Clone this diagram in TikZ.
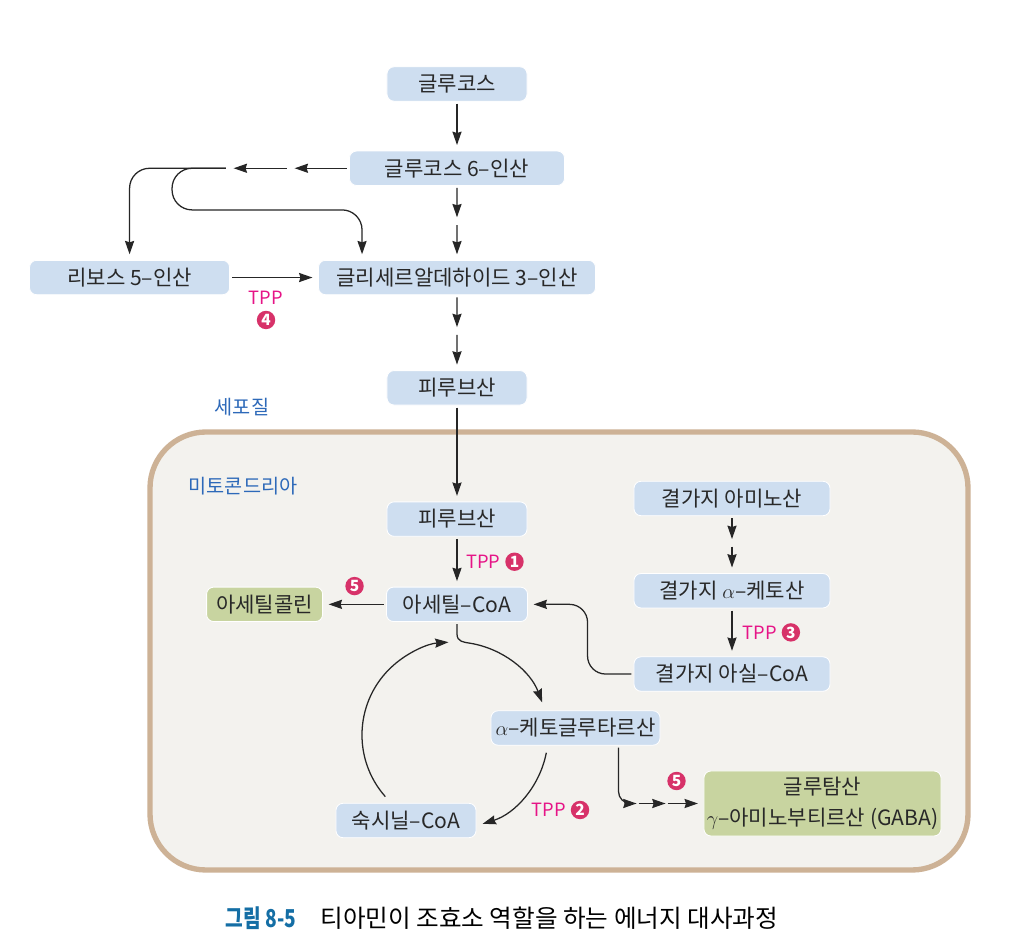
\documentclass[tikz,border=0pt]{standalone}
\usepackage{fontspec}
\setmainfont{Noto Sans CJK KR}
\usepackage{xcolor}
\usepackage{graphicx}
\usepackage{tikz}
\usetikzlibrary{arrows.meta, positioning, calc}
\definecolor{boxblue}{RGB}{206,222,240}
\definecolor{boxgreen}{RGB}{200,212,160}
\definecolor{mitofill}{RGB}{243,242,238}
\definecolor{mitoline}{RGB}{205,178,150}
\definecolor{labelblue}{RGB}{45,105,185}
\definecolor{tppmagenta}{RGB}{230,20,135}
\definecolor{numred}{RGB}{215,50,105}
\definecolor{capblue}{RGB}{20,110,165}
\definecolor{textgray}{RGB}{40,40,40}

\begin{document}
\begin{tikzpicture}[
  x=0.025cm, y=0.025cm,
  font=\fontsize{15}{17}\selectfont,
  >=Stealth,
  mol/.style={draw=white, line width=0.6pt, rounded corners=5pt, fill=#1,
              text=textgray, minimum height=0.86cm, inner sep=2pt},
  arr/.style={-{Stealth[length=9.5pt, width=6.5pt, inset=1pt]}, draw=black!85,
              line width=0.9pt, shorten <=1.5pt, shorten >=4pt},
  tpp/.style={text=tppmagenta, inner sep=1pt, font=\fontsize{13}{13}\selectfont},
  num/.style={circle, fill=numred, text=white, inner sep=0pt, minimum size=0.46cm,
              font=\fontsize{11}{11}\selectfont\bfseries},
  lbl/.style={text=labelblue, inner sep=1pt, font=\fontsize{14}{14}\selectfont},
]
\fill[white] (0,0) rectangle (1035,-951);
\useasboundingbox (0,0) rectangle (1035,-951);

%% Mitochondrion
\draw[mitoline, fill=mitofill, line width=3.8pt, rounded corners=1.4cm]
  (150,-432) rectangle (968,-870);
\node[lbl] (cyto) at (242,-407) {세포질};
\node[lbl] (mito) at (243,-486) {미토콘드리아};

%% Glycolysis column at x=457
\node[mol=boxblue, minimum width=3.5cm] (glc) at (457,-84) {글루코스};
\node[mol=boxblue, minimum width=5.375cm, below=1.225cm of glc] (g6p)
  {글루코스 6–인산};
\node[mol=boxblue, minimum width=6.925cm, below=1.85cm of g6p] (g3p)
  {글리세르알데하이드 3–인산};
\node[mol=boxblue, minimum width=5cm, left=2.2cm of g3p] (r5p)
  {리보스 5–인산};
\node[mol=boxblue, minimum width=3.5cm, below=1.875cm of g3p] (pyr) {피루브산};
\node[mol=boxblue, minimum width=3.5cm, below=2.4cm of pyr] (pyrm) {피루브산};
\node[mol=boxblue, minimum width=3.525cm, below=1.25cm of pyrm] (acoa)
  {아세틸–CoA};
\node[mol=boxgreen, minimum width=2.9cm, left=1.575cm of acoa] (ach)
  {아세틸콜린};

%% Branched chain (right)
\node[mol=boxblue, minimum width=4.9cm] (bcaa) at (732,-498.5) {결가지 아미노산};
\node[mol=boxblue, minimum width=4.9cm, below=1.425cm of bcaa] (bcka)
  {결가지 $\alpha$–케토산};
\node[mol=boxblue, minimum width=4.9cm, below=1.2cm of bcka] (bcac)
  {결가지 아실–CoA};

%% Cycle
\node[mol=boxblue, minimum width=4.225cm] (akg) at (575.5,-728)
  {$\alpha$–케토글루타르산};
\node[mol=boxblue, minimum width=3.5cm] (suc) at (406,-820.5) {숙시닐–CoA};
\node[mol=boxgreen, minimum width=5.875cm, minimum height=1.625cm, align=center,
      font=\fontsize{15}{22}\selectfont] (gaba) at (822.5,-803.5)
  {글루탐산\\$\gamma$–아미노부티르산 (GABA)};

%% Arrows: glycolysis
\coordinate (m1) at ($(g6p.south)!0.5!(g3p.north)$);
\coordinate (m2) at ($(g3p.south)!0.5!(pyr.north)$);
\draw[arr] (glc) -- (g6p);
\draw[arr] (g6p) -- (m1);
\draw[arr] (m1) -- (g3p);
\draw[arr] (g3p) -- (m2);
\draw[arr] (m2) -- (pyr);
\draw[arr] (pyr) -- (pyrm);

%% Pentose branch
\coordinate (br1) at ($(g6p.west)+(-60,0)$);
\coordinate (br2) at ($(g6p.west)+(-121,0)$);
\draw[arr] (g6p.west) -- (br1);
\draw[arr] (br1) -- (br2);
\draw[arr, rounded corners=0.5cm] (br2) -| (r5p.north);
\draw[arr, rounded corners=0.5cm] (br2) -- ++(-56,0)
  |- ($(g3p.north west)+(44,50)$) -- ($(g3p.north west)+(44,0)$);
\draw[arr] (r5p) -- (g3p) node[tpp, midway, below=8pt, xshift=-0.2cm] (tpp4) {TPP};
\node[num, below=3pt of tpp4] (n4) {4};

%% Arrows: mitochondrion
\draw[arr] (pyrm) -- (acoa) node[tpp, midway, right=5pt] (tpp1) {TPP};
\node[num, right=2pt of tpp1] (n1) {1};
\draw[arr] (acoa) -- (ach) node[num, midway, above=6pt] (n5a) {5};
\coordinate (bm) at ($(bcaa.south)!0.5!(bcka.north)$);
\draw[arr] (bcaa) -- (bm);
\draw[arr] (bm) -- (bcka);
\draw[arr] (bcka) -- (bcac) node[tpp, midway, right=6pt] (tpp3) {TPP};
\node[num, right=2pt of tpp3] (n3) {3};
\draw[arr, rounded corners=0.45cm] (bcac.west) -- ++(-46,0) |- (acoa.east);

%% TCA cycle
\coordinate (tca) at (455,-735);
\draw[arr, shorten >=0pt] (acoa.south) -- ++(0,-12)
  .. controls +(0,-8) and +(-6,1) .. ([shift={(80.7:2.325cm)}]tca)
  arc[start angle=80.7, end angle=20.5, radius=2.325cm];
\draw[arr, shorten <=0pt, shorten >=0pt] ([shift={(-11:2.325cm)}]tca)
  arc[start angle=-11, end angle=-72.7, radius=2.325cm];
\draw[arr, shorten <=0pt, shorten >=0pt] ([shift={(221.5:2.325cm)}]tca)
  arc[start angle=221.5, end angle=94, radius=2.325cm];
\node[tpp] (tpp2) at (549,-810) {TPP};
\node[num, right=2pt of tpp2] (n2) {2};

%% Glutamate to GABA
\coordinate (g1) at ($(gaba.west)+(-67,0)$);
\coordinate (g2) at ($(gaba.west)+(-38,0)$);
\draw[arr, rounded corners=0.3cm, shorten >=0pt] ($(akg.south)+(43,0)$) |- (g1);
\draw[arr, shorten >=0pt] (g1) -- (g2);
\draw[arr] (g2) -- (gaba);
\node[num] (n5b) at ($(g2)+(11,22.5)$) {5};

%% Caption
\node[font=\fontsize{17.5}{20}\selectfont] (cap) at (502,-918)
  {{\color{capblue}\bfseries\scalebox{0.78}[1]{그림 8-5}}\hspace{0.6cm}티아민이 조효소 역할을 하는 에너지 대사과정};

\end{tikzpicture}
\end{document}
